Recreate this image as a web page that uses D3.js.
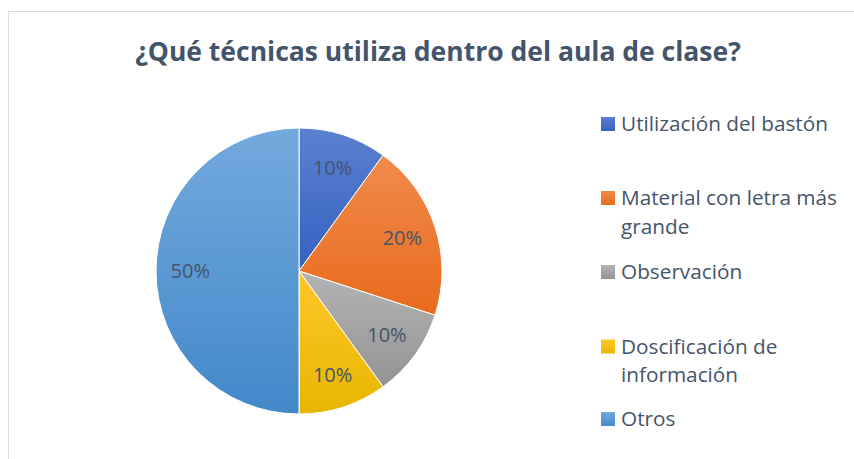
<!DOCTYPE html>
<html>
<head>
<meta charset="utf-8">
<title>Técnicas en el aula</title>
<script src="https://cdn.jsdelivr.net/npm/d3@7"></script>
<style>
  body { margin: 0; background: #fff; }
  text { font-family: 'Open Sans', sans-serif; }
</style>
</head>
<body>
<svg id="chart" width="854" height="459"></svg>
<script>
// data
var categories = ['Utilización del bastón', 'Material con letra más grande', 'Observación', 'Doscificación de información', 'Otros'];
var values = [10, 20, 10, 10, 50];
var legendLines = [['Utilización del bastón'], ['Material con letra más', 'grande'], ['Observación'], ['Doscificación de', 'información'], ['Otros']];
var topColors = ['#5b80d0', '#f18a4c', '#b4b4b4', '#ffc72c', '#73aadd'];
var bottomColors = ['#3562bf', '#e96b1c', '#939393', '#e7b600', '#4388ca'];
var title = '¿Qué técnicas utiliza dentro del aula de clase?';

var svg = d3.select('#chart');
var textColor = '#44546a';

// chart frame
svg.append('rect')
    .attr('x', 8.5).attr('y', 11.5)
    .attr('width', 900).attr('height', 500)
    .attr('fill', '#fff')
    .attr('stroke', '#d9dee3')
    .attr('stroke-width', 1);

var defs = svg.append('defs');
categories.forEach(function(c, i){
    var g = defs.append('linearGradient')
        .attr('id', 'grad' + i)
        .attr('x1', 0).attr('y1', 0).attr('x2', 0).attr('y2', 1);
    g.append('stop').attr('offset', '0%').attr('stop-color', topColors[i]);
    g.append('stop').attr('offset', '100%').attr('stop-color', bottomColors[i]);
});

// title, fitted to the width of the original
var t = svg.append('text')
    .attr('x', 438).attr('y', 61)
    .attr('text-anchor', 'middle')
    .attr('fill', textColor)
    .attr('font-weight', 'bold')
    .attr('font-size', 24)
    .text(title);
var tw = t.node().getComputedTextLength();
t.attr('font-size', 24 * 606 / tw);

var cx = 299, cy = 271, r = 143;
var pie = d3.pie().sort(null).value(function(d){ return d; });
var arc = d3.arc().innerRadius(0).outerRadius(r);
var labelArc = d3.arc().innerRadius(r * 0.76).outerRadius(r * 0.76);
var total = d3.sum(values);
var arcs = pie(values);

var g = svg.append('g').attr('transform', 'translate(' + cx + ',' + cy + ')');

g.selectAll('path.slice').data(arcs).enter().append('path')
    .attr('class', 'slice')
    .attr('d', arc)
    .attr('fill', function(d, i){ return 'url(#grad' + i + ')'; })
    .attr('stroke', '#fff')
    .attr('stroke-width', 1);

g.selectAll('text.label').data(arcs).enter().append('text')
    .attr('class', 'label')
    .attr('transform', function(d){ return 'translate(' + labelArc.centroid(d) + ')'; })
    .attr('text-anchor', 'middle')
    .attr('dy', '0.36em')
    .attr('font-size', 20)
    .attr('fill', textColor)
    .text(function(d){ return d3.format('.0%')(d.value / total); });

// legend
var legendY = [124, 198, 272, 346.5, 419];
var leg = svg.append('g');

// size the legend font so the first entry is as wide as in the original
var probe = leg.append('text').attr('font-size', 18).text(legendLines[0][0]);
var legendSize = 18 * 207 / probe.node().getComputedTextLength();
probe.remove();

var item = leg.selectAll('g.item').data(categories).enter().append('g')
    .attr('class', 'item')
    .attr('transform', function(d, i){ return 'translate(601,' + legendY[i] + ')'; });

item.append('rect')
    .attr('x', 0).attr('y', -7)
    .attr('width', 14).attr('height', 14)
    .attr('fill', function(d, i){ return 'url(#grad' + i + ')'; });

item.append('text')
    .attr('x', 20)
    .attr('font-size', legendSize)
    .attr('fill', textColor)
    .each(function(d, i){
        var el = d3.select(this);
        legendLines[i].forEach(function(line, j){
            el.append('tspan')
                .attr('x', 20)
                .attr('y', j * 28.5)
                .attr('dy', '0.36em')
                .text(line);
        });
    });
</script>
</body>
</html>
